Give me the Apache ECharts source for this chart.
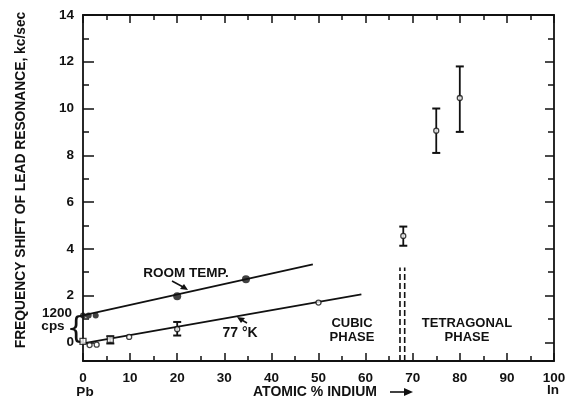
<!DOCTYPE html>
<html>
<head>
<meta charset="utf-8">
<title>Lead resonance shift</title>
<script src="https://cdn.jsdelivr.net/npm/echarts@6/dist/echarts.min.js"></script>
<style>
  html, body { margin: 0; padding: 0; background: #fff; }
  #main { width: 570px; height: 402px; }
</style>
</head>
<body>
<div id="main"></div>
<script>
// room temperature points (filled)
var roomX = [0, 1.2, 2.7, 20, 34.6];
var roomY = [1.15, 1.15, 1.15, 1.97, 2.7];
var roomFitX = [0, 48.8];
var roomFitY = [1.15, 3.33];

// 77 K points (open circles)
var coldX = [1.4, 2.9, 9.8, 20, 50, 68, 75, 80];
var coldY = [-0.12, -0.1, 0.23, 0.56, 1.7, 4.55, 9.05, 10.45];
// open squares
var sqX = [0, 5.8];
var sqY = [0.04, 0.12];
var coldFitX = [0, 59.1];
var coldFitY = [-0.05, 2.05];

// error bars
var errX = [5.8, 20, 68, 75, 80];
var errLow = [-0.05, 0.29, 4.13, 8.1, 9.0];
var errHigh = [0.26, 0.87, 4.95, 10.0, 11.8];

// cubic / tetragonal boundary (double dashed)
var boundX = [67.3, 68.3];
var boundY = [-0.8, 3.2];

var yMajor = [0, 2, 4, 6, 8, 10, 12, 14];
var yMinor = [1, 3, 5, 7, 9, 11, 13];

function zip(a, b) {
  return a.map(function(v, i) { return [v, b[i]]; });
}

var ink = '#111';
var font = 'Liberation Sans';
var chart = echarts.init(document.getElementById('main'), null, { renderer: 'canvas' });

function xAx(pos, interval, len, labels, line) {
  return {
    type: 'value', position: pos, min: 0, max: 100, interval: interval,
    axisLine: { show: line, onZero: false, lineStyle: { color: ink, width: 1.8 } },
    axisTick: { inside: true, length: len, lineStyle: { color: ink, width: 1.5 } },
    axisLabel: { show: labels, margin: 10, color: ink, fontSize: 13.5, fontFamily: font, fontWeight: 'bold' },
    splitLine: { show: false }
  };
}
function yAx(pos, vals, len, labels, line) {
  return {
    type: 'value', position: pos, min: -0.8, max: 14,
    axisLine: { show: line, onZero: false, lineStyle: { color: ink, width: 1.8 } },
    axisTick: { inside: true, length: len, customValues: vals, lineStyle: { color: ink, width: 1.5 } },
    axisLabel: { show: labels, customValues: vals, margin: 9, color: ink, fontSize: 13.5, fontFamily: font, fontWeight: 'bold' },
    splitLine: { show: false }
  };
}

var option = {
  animation: false,
  backgroundColor: '#fff',
  grid: { left: 83, right: 16, top: 15, bottom: 41 },
  xAxis: [
    xAx('bottom', 10, 8, true, true),
    xAx('bottom', 5, 5, false, false),
    xAx('top', 10, 8, false, true),
    xAx('top', 5, 5, false, false)
  ],
  yAxis: [
    yAx('left', yMajor, 11, true, true),
    yAx('left', yMinor, 6, false, false),
    yAx('right', yMajor, 9, false, true),
    yAx('right', yMinor, 6, false, false)
  ],
  series: [
    {
      type: 'line', data: zip(roomFitX, roomFitY), symbol: 'none',
      lineStyle: { color: ink, width: 1.8 }
    },
    {
      type: 'line', data: zip(coldFitX, coldFitY), symbol: 'none',
      lineStyle: { color: ink, width: 1.8 }
    },
    {
      type: 'line', data: [[boundX[0], boundY[0]], [boundX[0], boundY[1]]], symbol: 'none',
      lineStyle: { color: ink, width: 1.6, type: [6, 3] }
    },
    {
      type: 'line', data: [[boundX[1], boundY[0]], [boundX[1], boundY[1]]], symbol: 'none',
      lineStyle: { color: ink, width: 1.6, type: [6, 3] }
    },
    {
      type: 'custom',
      data: errX.map(function(x, i) { return [x, errLow[i], errHigh[i]]; }),
      renderItem: function(params, api) {
        var lo = api.coord([api.value(0), api.value(1)]);
        var hi = api.coord([api.value(0), api.value(2)]);
        var w = 4;
        return {
          type: 'group',
          children: [
            { type: 'line', shape: { x1: lo[0], y1: lo[1], x2: hi[0], y2: hi[1] }, style: { stroke: ink, lineWidth: 1.8 } },
            { type: 'line', shape: { x1: lo[0] - w, y1: lo[1], x2: lo[0] + w, y2: lo[1] }, style: { stroke: ink, lineWidth: 2 } },
            { type: 'line', shape: { x1: hi[0] - w, y1: hi[1], x2: hi[0] + w, y2: hi[1] }, style: { stroke: ink, lineWidth: 2 } }
          ]
        };
      },
      z: 3
    },
    {
      type: 'scatter', data: zip(roomX, roomY), symbol: 'circle',
      symbolSize: function(v) { return v[0] > 10 ? 8 : 6; },
      itemStyle: { color: ink }, z: 4
    },
    {
      type: 'scatter', data: zip(coldX, coldY), symbol: 'circle', symbolSize: 5,
      itemStyle: { color: '#fff', borderColor: ink, borderWidth: 1.3 }, z: 4
    },
    {
      type: 'scatter', data: zip(sqX, sqY), symbol: 'rect', symbolSize: 6,
      itemStyle: { color: '#fff', borderColor: ink, borderWidth: 1.3 }, z: 4
    }
  ],
  graphic: [
    {
      type: 'text', x: 21, y: 180, rotation: Math.PI / 2, origin: [0, 0],
      style: { text: 'FREQUENCY SHIFT OF LEAD RESONANCE, kc/sec', fill: ink, font: 'bold 13.8px Liberation Sans', align: 'center', verticalAlign: 'middle' }
    },
    {
      type: 'text', x: 57, y: 313,
      style: { text: '1200', fill: ink, font: 'bold 13.5px Liberation Sans', align: 'center', verticalAlign: 'middle' }
    },
    {
      type: 'text', x: 53, y: 326,
      style: { text: 'cps', fill: ink, font: 'bold 13.5px Liberation Sans', align: 'center', verticalAlign: 'middle' }
    },
    {
      type: 'text', x: 76, y: 330,
      style: { text: '{', fill: ink, font: '30px DejaVu Sans', align: 'center', verticalAlign: 'middle' }
    },
    {
      type: 'text', x: 186, y: 273,
      style: { text: 'ROOM TEMP.', fill: ink, font: 'bold 13.5px Liberation Sans', align: 'center', verticalAlign: 'middle' }
    },
    {
      type: 'line', shape: { x1: 172, y1: 281, x2: 185, y2: 288 }, style: { stroke: ink, lineWidth: 1.5 }
    },
    {
      type: 'polygon', shape: { points: [[188, 290], [180, 289], [184, 284]] }, style: { fill: ink }
    },
    {
      type: 'text', x: 240, y: 333,
      style: { text: '77 °K', fill: ink, font: 'bold 14px Liberation Sans', align: 'center', verticalAlign: 'middle' }
    },
    {
      type: 'line', shape: { x1: 247, y1: 323, x2: 240, y2: 319 }, style: { stroke: ink, lineWidth: 1.5 }
    },
    {
      type: 'polygon', shape: { points: [[237, 317], [245, 318], [241, 323]] }, style: { fill: ink }
    },
    {
      type: 'text', x: 352, y: 323,
      style: { text: 'CUBIC', fill: ink, font: 'bold 13px Liberation Sans', align: 'center', verticalAlign: 'middle' }
    },
    {
      type: 'text', x: 352, y: 337,
      style: { text: 'PHASE', fill: ink, font: 'bold 13px Liberation Sans', align: 'center', verticalAlign: 'middle' }
    },
    {
      type: 'text', x: 467, y: 323,
      style: { text: 'TETRAGONAL', fill: ink, font: 'bold 13px Liberation Sans', align: 'center', verticalAlign: 'middle' }
    },
    {
      type: 'text', x: 467, y: 337,
      style: { text: 'PHASE', fill: ink, font: 'bold 13px Liberation Sans', align: 'center', verticalAlign: 'middle' }
    },
    {
      type: 'text', x: 85, y: 392,
      style: { text: 'Pb', fill: ink, font: 'bold 13.5px Liberation Sans', align: 'center', verticalAlign: 'middle' }
    },
    {
      type: 'text', x: 553, y: 390,
      style: { text: 'In', fill: ink, font: 'bold 13.5px Liberation Sans', align: 'center', verticalAlign: 'middle' }
    },
    {
      type: 'text', x: 315, y: 392,
      style: { text: 'ATOMIC % INDIUM', fill: ink, font: 'bold 14px Liberation Sans', align: 'center', verticalAlign: 'middle' }
    },
    {
      type: 'line', shape: { x1: 390, y1: 392, x2: 405, y2: 392 }, style: { stroke: ink, lineWidth: 1.6 }
    },
    {
      type: 'polygon', shape: { points: [[413, 392], [404, 388], [404, 396]] }, style: { fill: ink }
    }
  ]
};
chart.setOption(option);
</script>
</body>
</html>
